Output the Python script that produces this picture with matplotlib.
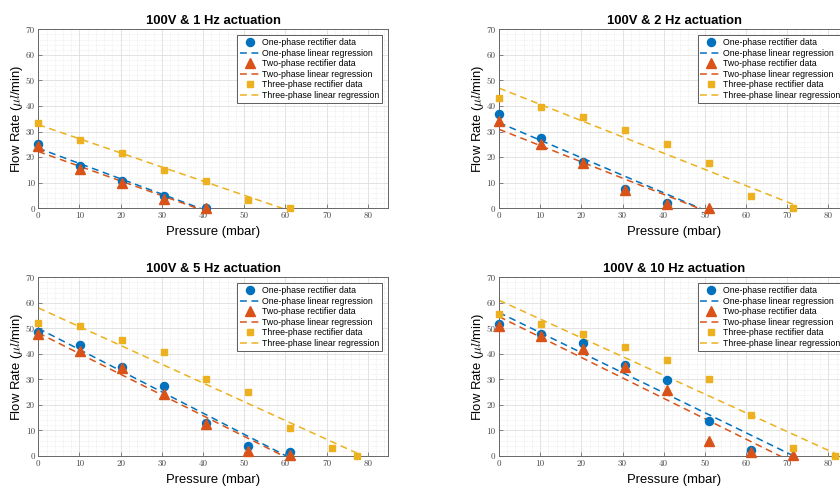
import matplotlib
matplotlib.use("Agg")
import matplotlib.pyplot as plt
import numpy as np
from matplotlib.ticker import AutoMinorLocator

plt.rcParams.update({
    "font.family": ["Liberation Sans", "DejaVu Sans"],
    "mathtext.fontset": "cm",
})

BLUE = "#0072BD"
RED = "#D95319"
YELLOW = "#EDB120"

TITLES = ["100V & 1 Hz actuation", "100V & 2 Hz actuation",
          "100V & 5 Hz actuation", "100V & 10 Hz actuation"]
LABELS = ["One-phase rectifier data", "One-phase linear regression",
          "Two-phase rectifier data", "Two-phase linear regression",
          "Three-phase rectifier data", "Three-phase linear regression"]
X_TICKS = [0, 10, 20, 30, 40, 50, 60, 70, 80]
Y_TICKS = [0, 10, 20, 30, 40, 50, 60, 70]

# ── data (pressure in mbar, flow in ul/min) ──────────────────────────────
# 1 Hz
P1_ONE = [0, 10.2, 20.4, 30.6, 40.8]
Q1_ONE = [25.0, 16.7, 10.5, 5.0, 0.0]
P1_TWO = [0, 10.2, 20.4, 30.6, 40.8]
Q1_TWO = [24.3, 15.3, 9.8, 3.7, 0.3]
P1_THREE = [0, 10.2, 20.4, 30.6, 40.8, 51.0, 61.2]
Q1_THREE = [33.3, 26.8, 21.5, 15.0, 10.8, 3.3, 0.0]
FIT1 = [(23.5, -0.598), (22.2, -0.575), (32.7, -0.552)]  # (intercept, slope)

# 2 Hz
P2_ONE = [0, 10.2, 20.4, 30.6, 40.8]
Q2_ONE = [36.8, 27.5, 18.2, 7.4, 2.2]
P2_TWO = [0, 10.2, 20.4, 30.6, 40.8, 51.0]
Q2_TWO = [34.3, 25.0, 17.8, 7.0, 1.8, 0.3]
P2_THREE = [0, 10.2, 20.4, 30.6, 40.8, 51.0, 61.2, 71.4]
Q2_THREE = [43.3, 39.6, 35.8, 30.6, 25.0, 17.7, 5.0, 0.0]
FIT2 = [(33.5, -0.686), (30.9, -0.637), (47.0, -0.636)]

# 5 Hz
P5_ONE = [0, 10.2, 20.4, 30.6, 40.8, 51.0, 61.2]
Q5_ONE = [48.7, 43.6, 34.9, 27.4, 12.8, 4.0, 1.5]
P5_TWO = [0, 10.2, 20.4, 30.6, 40.8, 51.0, 61.2]
Q5_TWO = [47.8, 41.0, 34.5, 24.3, 12.5, 1.8, 0.3]
P5_THREE = [0, 10.2, 20.4, 30.6, 40.8, 51.0, 61.2, 71.4, 77.5]
Q5_THREE = [52.2, 51.0, 45.6, 40.6, 30.0, 25.0, 10.8, 3.3, 0.0]
FIT5 = [(50.0, -0.83), (48.2, -0.81), (58.0, -0.735)]

# 10 Hz
P10_ONE = [0, 10.2, 20.4, 30.6, 40.8, 51.0, 61.2]
Q10_ONE = [51.6, 47.7, 44.1, 35.6, 29.9, 13.6, 2.3]
P10_TWO = [0, 10.2, 20.4, 30.6, 40.8, 51.0, 61.2, 71.4]
Q10_TWO = [51.0, 47.0, 42.0, 35.0, 25.8, 5.8, 1.5, 0.3]
P10_THREE = [0, 10.2, 20.4, 30.6, 40.8, 51.0, 61.2, 71.4, 81.6]
Q10_THREE = [55.8, 51.7, 47.8, 42.6, 37.7, 30.0, 15.9, 3.3, 0.0]
FIT10 = [(56.2, -0.785), (54.6, -0.80), (61.0, -0.735)]

PANELS = [
    ([(P1_ONE, Q1_ONE), (P1_TWO, Q1_TWO), (P1_THREE, Q1_THREE)], FIT1),
    ([(P2_ONE, Q2_ONE), (P2_TWO, Q2_TWO), (P2_THREE, Q2_THREE)], FIT2),
    ([(P5_ONE, Q5_ONE), (P5_TWO, Q5_TWO), (P5_THREE, Q5_THREE)], FIT5),
    ([(P10_ONE, Q10_ONE), (P10_TWO, Q10_TWO), (P10_THREE, Q10_THREE)], FIT10),
]

STYLES = [(BLUE, "o", 5.8), (RED, "^", 6.8), (YELLOW, "s", 5.0)]

# axes rectangles in figure fraction (right column runs past the image edge)
W, H = 840, 487
RECTS = [
    (38.3 / W, (H - 208.3) / H, 350 / W, 179 / H),
    (499 / W, (H - 208.3) / H, 350 / W, 179 / H),
    (38.3 / W, (H - 456) / H, 350 / W, 178.7 / H),
    (499 / W, (H - 456) / H, 350 / W, 178.7 / H),
]

fig = plt.figure(figsize=(8.4, 4.87), dpi=100)

for rect, title, (series, fits) in zip(RECTS, TITLES, PANELS):
    ax = fig.add_axes(rect)
    p_max = max(max(p) for p, _ in series)
    for (p, q), (b0, b1), (color, marker, ms), k in zip(series, fits, STYLES, range(3)):
        ax.plot(p, q, linestyle="none", marker=marker, ms=ms, color=color,
                label=LABELS[2 * k], clip_on=False, zorder=3)
        xs = np.array([0.0, p_max])
        ax.plot(xs, b0 + b1 * xs, linestyle=(0, (4.5, 3)), lw=1.1, color=color,
                label=LABELS[2 * k + 1], zorder=2)

    ax.set_xlim(0, 85)
    ax.set_ylim(0, 70)
    ax.set_xticks(X_TICKS, [str(t) for t in X_TICKS], fontfamily="cmr10")
    ax.set_yticks(Y_TICKS, [str(t) for t in Y_TICKS], fontfamily="cmr10")
    ax.xaxis.set_minor_locator(AutoMinorLocator(5))
    ax.yaxis.set_minor_locator(AutoMinorLocator(5))
    ax.grid(which="major", color="#dedede", lw=0.6)
    ax.grid(which="minor", color="#e4e4e4", lw=0.5, linestyle=(0, (1, 1.5)))
    ax.set_axisbelow(True)
    ax.tick_params(which="major", direction="in", length=3, width=0.5,
                   labelsize=6.5, labelcolor="#4a4a4a", color="#555555", pad=2.5)
    ax.tick_params(which="minor", length=0)
    for sp in ax.spines.values():
        sp.set_color("#666666")
        sp.set_linewidth(0.7)

    ax.set_title(title, fontsize=9.4, fontweight="bold", pad=4)
    ax.set_xlabel("Pressure (mbar)", fontsize=9.4, va="center")
    ax.xaxis.set_label_coords(0.5, -0.135)
    ax.set_ylabel(r"Flow Rate ($\mu l$/min)", fontsize=9.4, va="center")
    ax.yaxis.set_label_coords(-0.061, 0.5)

    leg = ax.legend(loc="upper right", fontsize=6.3, handlelength=2.4,
                    handletextpad=0.2, labelspacing=0.18, borderpad=0.3,
                    borderaxespad=0.7, fancybox=False, framealpha=1)
    leg.get_frame().set_edgecolor("#444444")
    leg.get_frame().set_linewidth(0.6)

fig.savefig("out.png", dpi=100)
